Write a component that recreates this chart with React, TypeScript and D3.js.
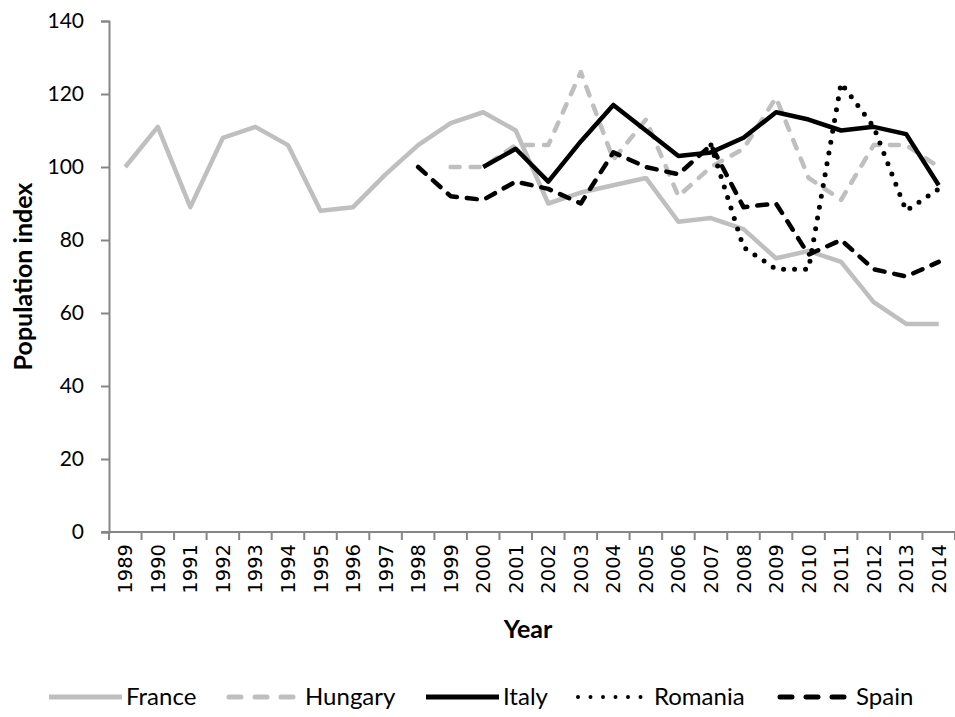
import * as d3 from "d3";
import React from "react";

const years = d3.range(1989, 2015);
const yTicks = [0, 20, 40, 60, 80, 100, 120, 140];

// values (null = no data that year)
const france = [100, 111, 89, 108, 111, 106, 88, 89, 98, 106, 112, 115, 110, 90, 93, 95, 97, 85, 86, 83, 75, 77, 74, 63, 57, 57];
const hungary = [null, null, null, null, null, null, null, null, null, null, 100, 100, 106, 106, 126, 102, 113, 92, 100, 105, 119, 97, 91, 106, 106, 100];
const italy = [null, null, null, null, null, null, null, null, null, null, null, 100, 105, 96, 107, 117, 110, 103, 104, 108, 115, 113, 110, 111, 109, 95];
const romania = [null, null, null, null, null, null, null, null, null, null, null, null, null, null, null, null, null, null, 106, 78, 72, 72, 123, 111, 88, 94];
const spain = [null, null, null, null, null, null, null, null, null, 100, 92, 91, 96, 94, 90, 104, 100, 98, 106, 89, 90, 76, 80, 72, 70, 74];

const series = [
  { name: "France", values: france, color: "#bfbfbf", dash: null },
  { name: "Hungary", values: hungary, color: "#bfbfbf", dash: "9,11" },
  { name: "Italy", values: italy, color: "#000000", dash: null },
  { name: "Romania", values: romania, color: "#000000", dash: "0,11" },
  { name: "Spain", values: spain, color: "#000000", dash: "10,10" },
];

const W = 955;
const H = 717;

export default function App() {
  const ref = React.useRef<SVGSVGElement>(null);

  React.useEffect(() => {
    const svg = d3.select(ref.current);
    svg.selectAll("*").remove();

    const margin = { top: 21, right: 0, bottom: 185, left: 109 };
    const x = d3
      .scaleBand<number>()
      .domain(years)
      .range([margin.left, W - margin.right]);
    const y = d3
      .scaleLinear()
      .domain([0, 140])
      .range([H - margin.bottom, margin.top]);

    const axisColor = "#868686";

    // y axis
    const yAxis = svg
      .append("g")
      .attr("transform", `translate(${margin.left},0)`)
      .call(d3.axisLeft(y).tickValues(yTicks).tickSize(8).tickPadding(17));
    yAxis.select(".domain").attr("stroke", axisColor).attr("stroke-width", 2);
    yAxis.selectAll(".tick line").attr("stroke", axisColor).attr("stroke-width", 2);
    yAxis
      .selectAll(".tick text")
      .attr("fill", "#000")
      .style("font-family", "Lato, sans-serif")
      .style("font-size", "21px");

    // x axis: labels at band centres, ticks on band edges
    const x0 = y(0);
    const xAxis = svg
      .append("g")
      .attr("transform", `translate(0,${x0})`)
      .call(d3.axisBottom(x).tickSize(0).tickPadding(0).tickSizeOuter(0));
    xAxis.select(".domain").remove();
    xAxis
      .selectAll(".tick text")
      .attr("fill", "#000")
      .attr("transform", "rotate(-90)")
      .attr("text-anchor", "end")
      .attr("x", -12)
      .attr("y", 0)
      .attr("dy", "0.36em")
      .style("font-family", "'DejaVu Sans', sans-serif")
      .style("font-size", "19.5px");

    const edges = years.map((d) => x(d)!).concat([x(years[years.length - 1])! + x.bandwidth()]);
    svg
      .append("line")
      .attr("x1", margin.left - 8)
      .attr("x2", W)
      .attr("y1", x0)
      .attr("y2", x0)
      .attr("stroke", axisColor)
      .attr("stroke-width", 2);
    svg
      .append("g")
      .selectAll("line")
      .data(edges)
      .enter()
      .append("line")
      .attr("x1", (d) => d)
      .attr("x2", (d) => d)
      .attr("y1", x0)
      .attr("y2", x0 + 8)
      .attr("stroke", axisColor)
      .attr("stroke-width", 2);

    // lines
    const line = d3
      .line<number | null>()
      .defined((d) => d !== null)
      .x((d, i) => x(years[i])! + x.bandwidth() / 2)
      .y((d) => y(d as number));

    series.forEach((s) => {
      const p = svg
        .append("path")
        .attr("d", line(s.values))
        .attr("fill", "none")
        .attr("stroke", s.color)
        .attr("stroke-width", s.name === "Romania" ? 5 : 4.5)
        .attr("stroke-linejoin", "round")
        .attr("stroke-linecap", s.dash ? "round" : "butt");
      if (s.dash) p.attr("stroke-dasharray", s.dash);
    });

    // axis titles
    svg
      .append("text")
      .attr("transform", `translate(23,${(y(0) + y(140)) / 2}) rotate(-90)`)
      .attr("text-anchor", "middle")
      .attr("dy", "0.35em")
      .style("font-family", "Lato, sans-serif")
      .style("font-weight", "bold")
      .style("font-size", "25px")
      .text("Population index");

    svg
      .append("text")
      .attr("x", (margin.left + W) / 2 - 4)
      .attr("y", 638)
      .attr("text-anchor", "middle")
      .style("font-family", "Lato, sans-serif")
      .style("font-weight", "bold")
      .style("font-size", "25px")
      .text("Year");

    // legend
    const legendX = [49, 229, 426, 578, 780];
    const legendY = 697;
    const lg = svg
      .append("g")
      .selectAll("g")
      .data(series)
      .enter()
      .append("g")
      .attr("transform", (d, i) => `translate(${legendX[i]},${legendY})`);
    lg.append("line")
      .attr("x1", 0)
      .attr("x2", (d) => (d.dash ? 64 : 73))
      .attr("y1", 0)
      .attr("y2", 0)
      .attr("stroke", (d) => d.color)
      .attr("stroke-width", (d) => (d.name === "Romania" ? 4 : 5))
      .attr("stroke-linecap", (d) => (d.dash ? "round" : "butt"))
      .attr("stroke-dasharray", (d) => (d.name === "Romania" ? "0,12.5" : d.dash ? "12,14" : null));
    lg.append("text")
      .attr("x", (d) => (d.dash ? 76 : 77))
      .attr("y", 0)
      .attr("dy", "0.35em")
      .style("font-family", "Lato, sans-serif")
      .style("font-size", "24px")
      .text((d) => d.name);
  }, []);

  return (
    <svg
      ref={ref}
      width={W}
      height={H}
      style={{ position: "absolute", left: 0, top: 0, background: "#fff" }}
    ></svg>
  );
}
